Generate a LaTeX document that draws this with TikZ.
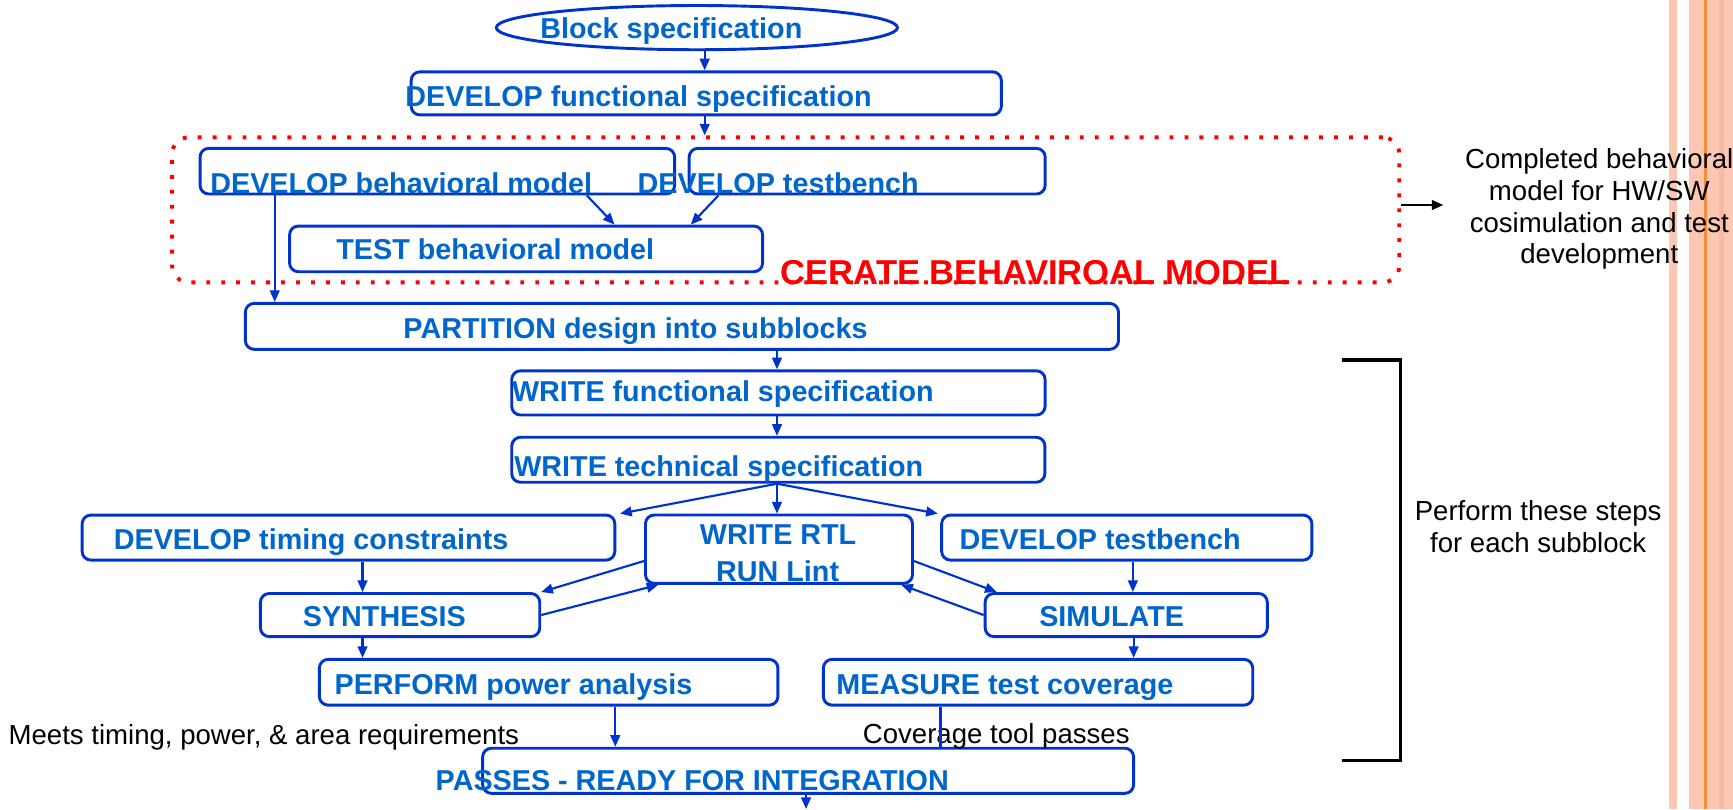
\documentclass[tikz,border=0pt]{standalone}
\usepackage{fontspec}
\setmainfont{Liberation Sans}
\usepackage{tikz}
\usetikzlibrary{shapes.geometric,arrows.meta}

\definecolor{boxblue}{RGB}{0,51,204}
\definecolor{txtblue}{RGB}{0,102,204}
\definecolor{stripe}{RGB}{252,200,180}
\definecolor{stripedark}{RGB}{250,184,160}
\definecolor{stripeline}{RGB}{247,140,50}
\newcommand{\pxu}{0.02cm}

\tikzset{
    sz/.style 2 args={minimum width=#1*\pxu,minimum height=#2*\pxu},
    stepbox/.style={draw=boxblue,line width=1.5pt,rounded corners=4.5pt,inner sep=0pt},
    steptxt/.style={text=txtblue,font=\fontsize{14.8pt}{17pt}\selectfont\bfseries,inner sep=0pt,anchor=base west},
    notetxt/.style={font=\fontsize{14.2pt}{16.3pt}\selectfont,inner sep=0pt,align=center}
}

\begin{document}
\begin{tikzpicture}[x=\pxu,y=-\pxu]
  \useasboundingbox (0,0) rectangle (1568,732);

  % side stripes
  \fill[stripe] (1510.1,0) rectangle (1517.1,732);
  \fill[stripe] (1528.2,0) rectangle (1568,732);
  \fill[stripedark] (1555.4,0) rectangle (1559.9,732);
  \fill[stripeline] (1541.8,0) rectangle (1544.5,732);

  \node[draw=red,line width=2pt,dash pattern=on 2pt off 5.7pt,rounded corners=8.5pt,
        inner sep=0pt,sz={1110.3}{131.2}] (cbm) at (710.9,189.9) {};

  \begin{scope}[every node/.style={stepbox}]
    \node[ellipse,sz={363}{40}] (spec) at (630.5,25) {};
    \node[sz={534}{39}] (fspec) at (639,84.5) {};
    \node[sz={429.4}{41.3}] (beh) at (395.7,154.9) {};
    \node[sz={322.1}{41.3}] (tb) at (784.6,154.9) {};
    \node[sz={428}{41.3}] (test) at (476,225.2) {};
    \node[sz={790}{41.5}] (part) at (617,295.3) {};
    \node[sz={482.6}{40}] (wfs) at (704.3,355.5) {};
    \node[sz={482.4}{40.7}] (wts) at (704.2,416) {};
    \node[sz={482}{40.7}] (tim) at (315.3,486.4) {};
    \node[sz={241.6}{61.8}] (rtl) at (704.8,496.9) {};
    \node[sz={335}{40.7}] (tb2) at (1019.5,486.4) {};
    \node[sz={252.7}{39}] (syn) at (362,556.5) {};
    \node[sz={255.3}{39}] (sim) at (1019,556.5) {};
    \node[sz={414.9}{41.4}] (pow) at (496.4,617.3) {};
    \node[sz={388.5}{41.4}] (cov) at (939.2,617.3) {};
    \node[sz={589}{40.8}] (pass) at (731.2,697.4) {};
  \end{scope}

  \begin{scope}[every node/.style={steptxt}]
    \node (spec-t) at (488.6,34.7) {Block specification};
    \node (fspec-t) at (366.5,96) {DEVELOP functional specification};
    \node (beh-t) at (190,175) {DEVELOP behavioral model};
    \node (tb-t) at (576.6,175) {DEVELOP testbench};
    \node (test-t) at (304,235) {TEST behavioral model};
    \node (part-t) at (364.7,306) {PARTITION design into subblocks};
    \node (wfs-t) at (463,363.4) {WRITE functional specification};
    \node (wts-t) at (465,431.3) {WRITE technical specification};
    \node (tim-t) at (102.7,497) {DEVELOP timing constraints};
    \node[anchor=base] (rtl-t1) at (704,493) {WRITE RTL};
    \node[anchor=base] (rtl-t2) at (703.6,526.3) {RUN Lint};
    \node (tb2-t) at (868,497) {DEVELOP testbench};
    \node (syn-t) at (273.7,567) {SYNTHESIS};
    \node (sim-t) at (940,567) {SIMULATE};
    \node (pow-t) at (302.4,628.3) {PERFORM power analysis};
    \node (cov-t) at (756.4,628.3) {MEASURE test coverage};
    \node (pass-t) at (393.9,714.8) {PASSES - READY FOR INTEGRATION};
    \node[text=red,font=\fontsize{17.8pt}{20pt}\selectfont\bfseries] (cbm-t) at (706,257) {CERATE BEHAVIROAL MODEL};
  \end{scope}

  \begin{scope}[every node/.style={notetxt}]
    \node (done) at (1447,189.2) {Completed behavioral\\model for HW/SW\\cosimulation and test\\development};
    \node (each) at (1391.7,476.5) {Perform these steps\\for each subblock};
    \node[anchor=base west] (meets) at (7.5,674) {Meets timing, power, \& area requirements};
    \node[anchor=base west] (covok) at (780.4,673) {Coverage tool passes};
  \end{scope}

  \coordinate (cbm-out) at (1306,185.5);
  \coordinate (pass-out) at (729.3,732);

  % subblock bracket
  \draw[line width=1.6pt] (1214,325.7) -- (1266.8,325.7) -- (1266.8,688) -- (1214,688);

  \begin{scope}[>={Triangle[length=6pt,width=5pt]},
                every edge/.style={draw=boxblue,line width=1.1pt}]
    \path [->] (637.6,0 |- spec.south) edge (637.6,0 |- fspec.north);
    \path [->] (637.6,0 |- fspec.south) edge (637.6,0 |- cbm.north);
    \path [->] (531,0 |- beh.south) edge (556,0 |- test.north);
    \path [->] (650,0 |- tb.south) edge (625,0 |- test.north);
    \path [->] (248.6,0 |- beh.south) edge (248.6,0 |- part.north);
    \path [->] (703,0 |- part.south) edge (703,0 |- wfs.north);
    \path [->] (703,0 |- wfs.south) edge (703,0 |- wts.north);
    \path [->] (703,0 |- wts.south) edge (561,0 |- tim.north);
    \path [->] (703,0 |- wts.south) edge (703,0 |- rtl.north);
    \path [->] (703,0 |- wts.south) edge (848.5,0 |- tb2.north);
    \path [->] (328,0 |- tim.south) edge (328,0 |- syn.north);
    \path [->] (1025,0 |- tb2.south) edge (1025,0 |- sim.north);
    \path [->] (rtl.west |- 0,507.6) edge (syn.north east);
    \path [->] (syn.east) edge (595.7,0 |- rtl.south);
    \path [->] (rtl.east |- 0,507.6) edge (901.8,0 |- sim.north);
    \path [->] (sim.west) edge (815.3,0 |- rtl.south);
    \path [->] (328,0 |- syn.south) edge (328,0 |- pow.north);
    \path [->] (1025.7,0 |- sim.south) edge (1025.7,0 |- cov.north);
    \path [->] (556.7,0 |- pow.south) edge (556.7,0 |- pass.north);
    \path (851,0 |- cov.south) edge (851,0 |- pass.north);
    \path [->] (729.3,0 |- pass.south) edge (pass-out);
    \path [->] (cbm.east |- cbm-out) edge[draw=black] (cbm-out);
  \end{scope}
\end{tikzpicture}
\end{document}
